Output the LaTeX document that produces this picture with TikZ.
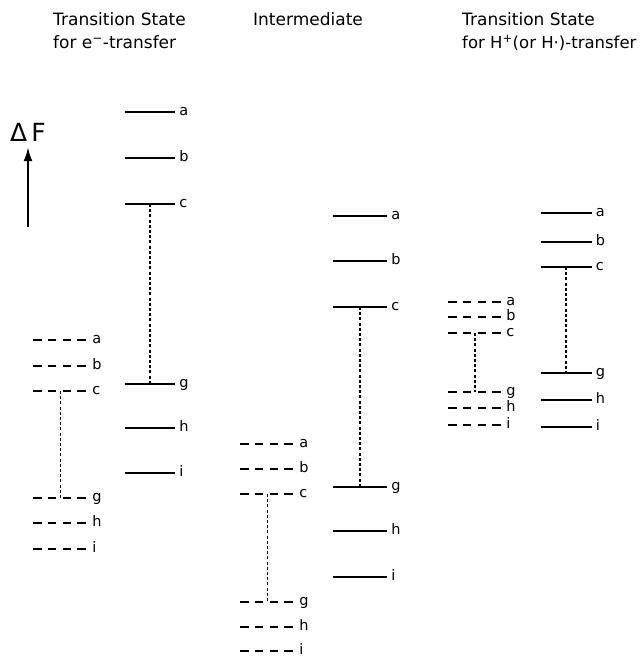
\documentclass[tikz,border=0pt]{standalone}
\usepackage{fontspec}
\setmainfont{DejaVu Sans}
\usetikzlibrary{arrows.meta}

\begin{document}
\begin{tikzpicture}[x=1pt, y=-1pt,
    lvl/.style={minimum width=#1, minimum height=0pt, inner sep=0pt, outer sep=0pt},
    full/.style={line width=2.6pt},
    broken/.style={line width=2.8pt, dash pattern=on 8.5pt off 6.3pt},
    link/.style={line width=1.2pt, dash pattern=on 3pt off 2.2pt},
    tag/.style={anchor=west, inner sep=0pt, xshift=3pt, text height=7.5pt, text depth=0pt, font=\fontsize{14.5}{14.5}\selectfont},
    heading/.style={anchor=base west, inner sep=0pt, font=\fontsize{17}{20}\selectfont},
    rise/.style={line width=2pt, -{Latex[length=14pt, width=9pt]}}]

\useasboundingbox (0,0) rectangle (643,658);

% headings
\node[heading] (tse) at (53,26) {Transition State};
\node[heading] (tse2) at (53,49) {for e\textsuperscript{−}-transfer};
\node[heading] (mid) at (253,26) {Intermediate};
\node[heading] (tsh) at (462,26) {Transition State};
\node[heading, font=\fontsize{16.5}{20}\selectfont] (tsh2) at (462,49) {for H\textsuperscript{+}(or H·)-transfer};

% free energy axis
\node[inner sep=0pt, anchor=base, font=\fontsize{25}{25}\selectfont] (dF) at (28,142) {Δ\,F};
\coordinate (dFbase) at (28,227);
\draw[rise, shorten >=5pt] (dFbase) -- (dFbase |- dF.south);

% levels a..i, then c--g link
\foreach \col/\x/\w/\sty/\ys in {
    eD/60.5/55pt/broken/{a/340,b/366,c/391,g/498,h/523,i/549},
    eS/150/50pt/full/{a/112,b/158,c/204,g/384,h/428,i/473},
    mD/267.5/55pt/broken/{a/444,b/469,c/494,g/602,h/627,i/651},
    mS/360/54pt/full/{a/216,b/261,c/307,g/487,h/531,i/577},
    hD/475/54pt/broken/{a/302,b/317,c/333,g/392,h/408,i/425},
    hS/566/51pt/full/{a/213,b/242,c/267,g/373,h/400,i/427}}
{
  \foreach \l/\y in \ys {
    \node[lvl=\w] (\col\l) at (\x,\y) {};
    \draw[\sty] (\col\l.west) -- (\col\l.east) node[tag] (\col\l t) {\l};
  }
  \draw[link] (\col c) -- (\col g);
}
\end{tikzpicture}
\end{document}
